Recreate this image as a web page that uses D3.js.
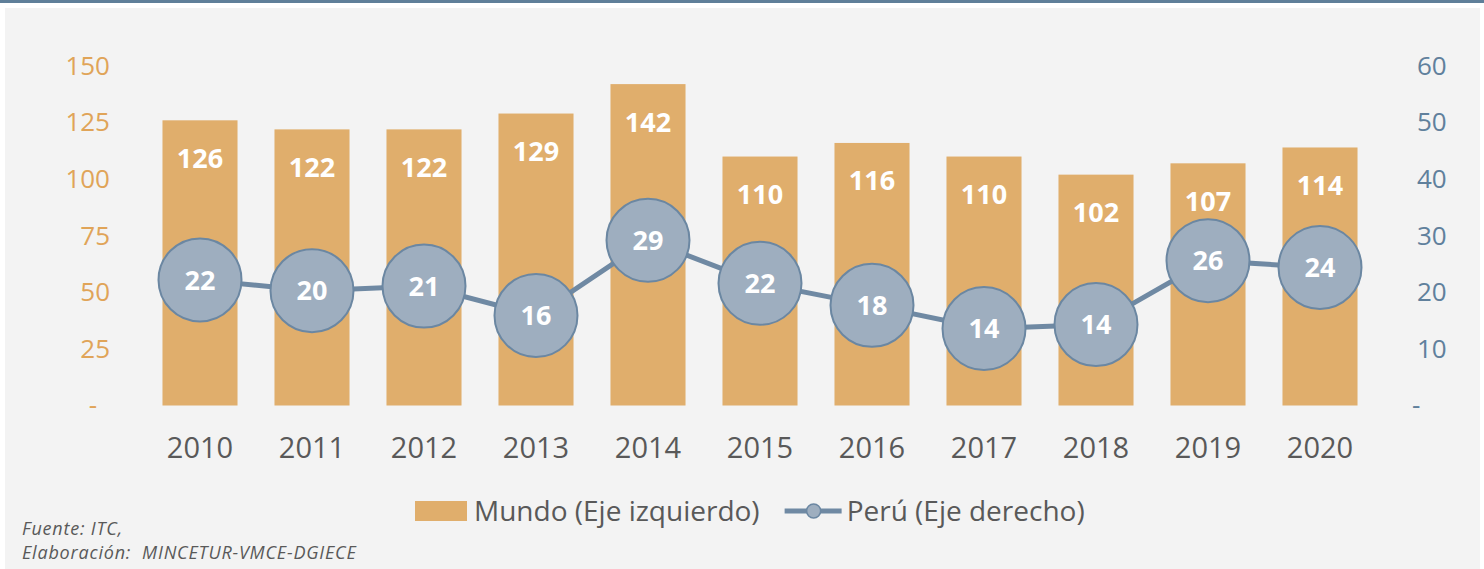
<!DOCTYPE html>
<html>
<head>
<meta charset="utf-8">
<script src="https://cdn.jsdelivr.net/npm/d3@7"></script>
<style>
  html, body { margin: 0; padding: 0; background: #ffffff; }
  svg { display: block; }
  svg text { font-family: "Open Sans", Lato, sans-serif; }
</style>
</head>
<body>
<div id="chart"></div>
<script>
// data
var years = ["2010", "2011", "2012", "2013", "2014", "2015", "2016", "2017", "2018", "2019", "2020"];
var mundo = [126, 122, 122, 129, 142, 110, 116, 110, 102, 107, 114];
// Perú values are unrounded estimates (the circles sit a little off the integer labels)
var peru = [22.2, 20.3, 21.1, 15.9, 29.2, 21.6, 17.7, 13.6, 14.3, 25.6, 24.4];
var leftTicks = [0, 25, 50, 75, 100, 125, 150];
var rightTicks = [0, 10, 20, 30, 40, 50, 60];

var width = 1484, height = 569;
var colors = {
  bar: "#e0ae6c",
  leftAxis: "#e0a458",
  rightAxis: "#60809c",
  line: "#6f89a3",
  dot: "#9eaebf",
  dotStroke: "#6b87a2",
  text: "#595959"
};

var svg = d3.select("#chart").append("svg")
  .attr("width", width)
  .attr("height", height);

// panel + top rule
svg.append("rect").attr("x", 0).attr("y", 0).attr("width", width).attr("height", 3).attr("fill", "#5f7f99");
svg.append("rect").attr("x", 5).attr("y", 8).attr("width", 1475).attr("height", height - 8).attr("fill", "#f3f3f3");

var x = d3.scaleBand().domain(years).range([144, 1376]).paddingInner(0.33).paddingOuter(0.165);
var yL = d3.scaleLinear().domain([0, 150]).range([405.5, 66]);
var yR = d3.scaleLinear().domain([0, 60]).range([405.5, 66]);

function fmt(d) { return d === 0 ? "-" : d; }

// left axis
var axL = svg.append("g").attr("transform", "translate(110,0)")
  .call(d3.axisLeft(yL).tickValues(leftTicks).tickSize(0).tickPadding(0).tickFormat(fmt));
axL.attr("font-family", null);
axL.select(".domain").remove();
axL.selectAll("text")
  .attr("fill", colors.leftAxis)
  .style("font-size", "26px")
  .attr("dx", function (d) { return d === 0 ? -13 : 0; });

// right axis
var axR = svg.append("g").attr("transform", "translate(1417,0)")
  .call(d3.axisRight(yR).tickValues(rightTicks).tickSize(0).tickPadding(0).tickFormat(fmt));
axR.attr("font-family", null);
axR.select(".domain").remove();
axR.selectAll("text")
  .attr("fill", colors.rightAxis)
  .style("font-size", "26px")
  .attr("dx", function (d) { return d === 0 ? -5 : 0; });

// x axis labels
var axX = svg.append("g").attr("transform", "translate(0,448)")
  .call(d3.axisBottom(x).tickSize(0).tickPadding(0));
axX.attr("font-family", null);
axX.select(".domain").remove();
axX.selectAll("text")
  .attr("fill", colors.text)
  .attr("dy", "0.35em")
  .style("font-size", "29px");

// bars
svg.append("g").selectAll("rect")
  .data(mundo)
  .enter().append("rect")
    .attr("x", (d, i) => x(years[i]))
    .attr("y", d => yL(d))
    .attr("width", x.bandwidth())
    .attr("height", d => yL(0) - yL(d))
    .attr("fill", colors.bar);

svg.append("g").selectAll("text")
  .data(mundo)
  .enter().append("text")
    .attr("x", (d, i) => x(years[i]) + x.bandwidth() / 2)
    .attr("y", d => yL(d) + 38)
    .attr("dy", "0.35em")
    .attr("text-anchor", "middle")
    .attr("fill", "#ffffff")
    .style("font-size", "27px")
    .style("font-weight", "bold")
    .text(d => d);

// line
var line = d3.line()
  .x((d, i) => x(years[i]) + x.bandwidth() / 2)
  .y(d => yR(d));

svg.append("path")
  .datum(peru)
  .attr("d", line)
  .attr("fill", "none")
  .attr("stroke", colors.line)
  .attr("stroke-width", 5);

var dots = svg.append("g").selectAll("g")
  .data(peru)
  .enter().append("g")
    .attr("transform", (d, i) => "translate(" + [x(years[i]) + x.bandwidth() / 2, yR(d)] + ")");
dots.append("circle")
  .attr("r", 41.5)
  .attr("fill", colors.dot)
  .attr("stroke", colors.dotStroke)
  .attr("stroke-width", 2);
dots.append("text")
  .attr("dy", "0.36em")
  .attr("text-anchor", "middle")
  .attr("fill", "#ffffff")
  .style("font-size", "27px")
  .style("font-weight", "bold")
  .text(d3.format(".0f"));

// legend
var legend = svg.append("g").attr("class", "legend");
legend.append("rect").attr("x", 415).attr("y", 501).attr("width", 52).attr("height", 20).attr("fill", colors.bar);
var t1 = legend.append("text").attr("x", 474).attr("y", 511).attr("dy", "0.35em")
  .attr("fill", colors.text).style("font-size", "28px").text("Mundo (Eje izquierdo)");
var lx = 474 + t1.node().getComputedTextLength() + 25;
legend.append("line").attr("x1", lx).attr("x2", lx + 57).attr("y1", 511).attr("y2", 511)
  .attr("stroke", colors.line).attr("stroke-width", 5);
legend.append("circle").attr("cx", lx + 29).attr("cy", 511).attr("r", 7)
  .attr("fill", colors.dot).attr("stroke", colors.dotStroke).attr("stroke-width", 1.5);
legend.append("text").attr("x", lx + 62).attr("y", 511).attr("dy", "0.35em")
  .attr("fill", colors.text).style("font-size", "28px").text("Perú (Eje derecho)");

// source notes
var notes = svg.append("g")
  .attr("fill", colors.text)
  .style("font-size", "18px")
  .style("font-style", "italic")
  .style("letter-spacing", "0.8px");
notes.append("text").attr("x", 22).attr("y", 535).text("Fuente: ITC,");
notes.append("text").attr("x", 22).attr("y", 559).attr("xml:space", "preserve").text("Elaboración:  MINCETUR-VMCE-DGIECE");
</script>
</body>
</html>
